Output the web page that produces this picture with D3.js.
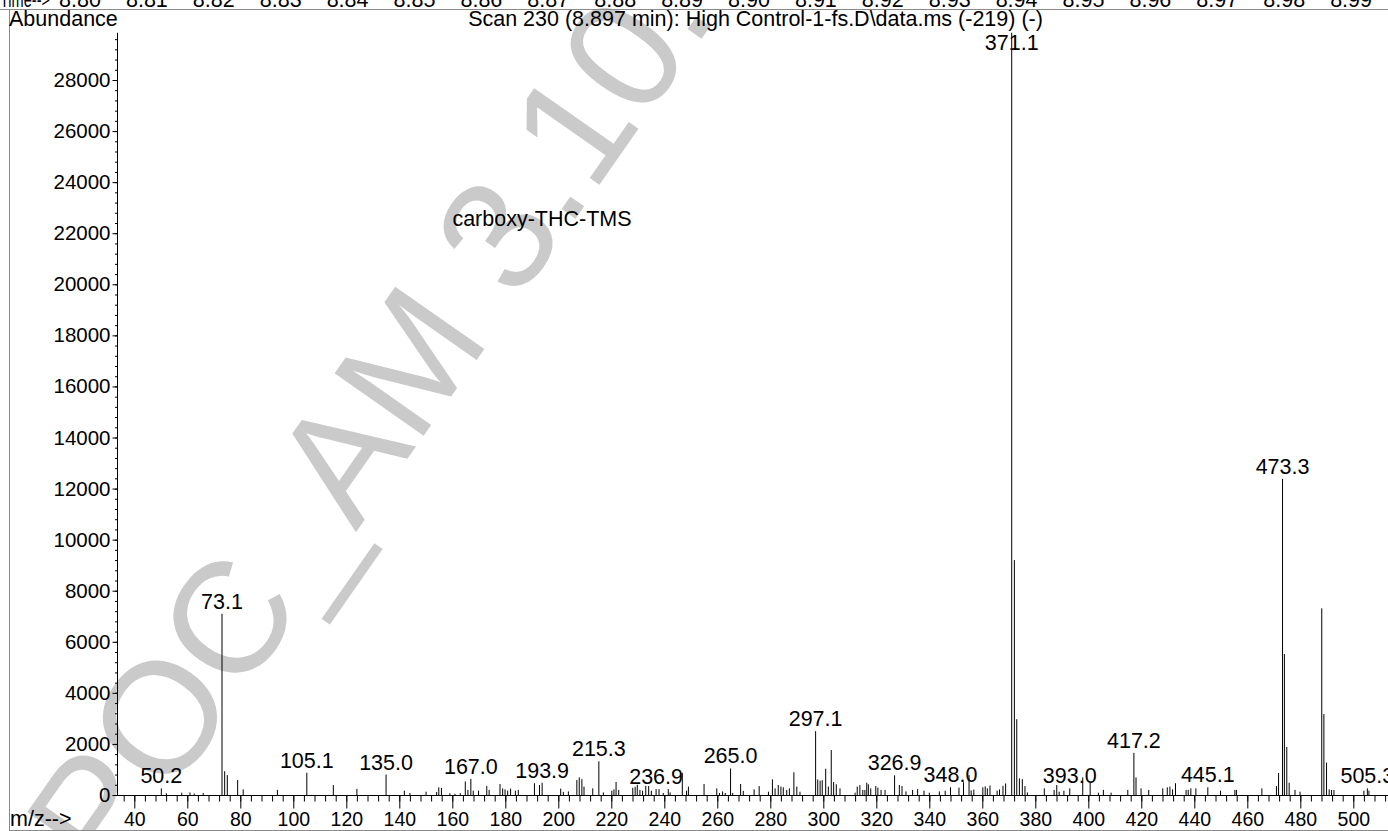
<!DOCTYPE html>
<html><head><meta charset="utf-8">
<script src="https://cdn.jsdelivr.net/npm/d3@7"></script>
<style>
html,body{margin:0;padding:0;background:#fff;overflow:hidden;}
svg{display:block;font-family:"Liberation Sans",Arial,Helvetica,sans-serif;}
</style></head><body>
<svg id="c" width="1388" height="831"></svg>
<script>
// ---- data ----
const mz = [50.2,52.1,57.9,61.0,62.6,66.0,73.1,74.1,75.1,79.0,81.1,94.0,105.1,115.1,124.0,135.0,141.9,144.0,150.1,154.1,154.9,155.9,159.1,161.0,163.0,164.9,165.9,167.0,167.9,169.9,173.0,173.9,178.0,179.0,179.9,180.9,182.0,183.8,184.9,191.0,192.9,193.9,200.9,201.9,203.8,207.0,207.9,208.9,209.7,213.0,215.3,217.0,220.2,221.0,221.8,222.8,228.1,229.0,229.8,230.8,231.8,233.0,234.1,235.1,236.9,238.0,239.6,241.5,242.2,246.8,248.4,249.1,255.0,259.8,260.8,262.0,263.0,265.0,265.8,268.8,269.8,273.9,275.8,279.3,280.8,281.8,283.0,284.0,284.9,286.2,287.2,288.9,290.0,291.2,297.1,297.9,298.8,299.6,300.9,301.9,303.0,303.9,304.9,306.3,312.0,312.8,313.8,314.9,315.7,316.4,317.0,317.9,319.8,320.6,321.8,323.3,326.9,328.7,329.7,331.2,333.7,335.6,338.0,340.0,343.8,346.0,348.0,351.2,352.9,355.0,355.8,356.8,360.2,361.1,361.9,362.9,365.6,366.5,367.8,368.8,371.1,372.1,373.0,374.0,375.1,376.1,377.0,383.4,387.1,388.1,389.0,390.8,393.0,397.9,400.7,403.8,405.7,408.6,414.9,417.2,418.0,419.9,422.8,428.1,429.8,430.8,431.8,432.9,436.9,437.7,438.7,440.6,445.1,449.9,455.3,455.9,465.5,471.0,471.8,473.3,474.0,474.9,475.8,478.0,479.9,488.1,488.9,489.9,490.9,491.8,492.7,504.0,505.3,505.9];
const abundance = [260,70,90,100,60,80,7100,930,780,590,220,200,870,390,240,800,170,80,130,120,300,280,70,50,70,530,200,630,170,170,350,200,430,260,220,170,250,170,200,460,390,480,250,120,140,590,690,620,330,260,1320,100,170,220,510,200,280,320,400,200,170,360,350,170,230,230,80,230,100,870,170,330,430,260,80,140,80,1040,80,430,160,220,350,130,610,260,390,330,300,200,260,890,330,130,2500,610,560,580,1030,330,1760,510,420,260,90,330,390,200,200,480,420,260,350,290,200,200,770,390,350,140,200,230,170,90,140,170,300,290,500,780,180,210,300,340,260,370,170,220,360,450,29850,9200,2970,650,620,350,100,260,200,390,130,170,260,690,520,90,200,90,200,1650,690,260,200,260,300,330,220,460,200,200,260,260,300,170,200,200,260,350,860,12380,5520,1880,480,200,130,7310,3170,1270,220,200,200,170,260,170];
const labelMz = [50.2,73.1,105.1,135.0,167.0,193.9,215.3,236.9,265.0,297.1,326.9,348.0,371.1,393.0,417.2,445.1,473.3,505.3];
const xTickValues = d3.range(40, 501, 20);
const xMinorValues = d3.range(36, 513, 4);
const yTickValues = d3.range(0, 28001, 2000);
const yMinorValues = d3.range(0, 29801, 400);
const timeLabels = ["8.80","8.81","8.82","8.83","8.84","8.85","8.86","8.87","8.88","8.89","8.90","8.91","8.92","8.93","8.94","8.95","8.96","8.97","8.98","8.99"];
const titleText = "Scan 230 (8.897 min): High Control-1-fs.D\\data.ms (-219) (-)";
const yAxisTitle = "Abundance";
const xAxisTitle = "m/z-->";
const timeTitle = "Time-->";
const annotationText = "carboxy-THC-TMS";
const watermarkText = "POC_AM 3.10.";

// ---- drawing ----
const svg = d3.select("#c");
const W = 1388, H = 831;
const x = d3.scaleLinear().domain([40, 500]).range([134.3, 1353.3]);
const y = d3.scaleLinear().domain([0, 28000]).range([795, 80]);
const FS = 21.5;

// watermark (behind)
svg.append("text")
  .attr("transform", "translate(109,885) rotate(-55)")
  .attr("font-size", 158)
  .attr("fill", "#cacaca")
  .text(watermarkText);

// frame
const frame = svg.append("g").attr("stroke", "#8a8a8a").attr("stroke-width", 1).attr("fill", "none");
frame.append("line").attr("x1", 0).attr("x2", W).attr("y1", 9.5).attr("y2", 9.5);
frame.append("line").attr("x1", 9.5).attr("x2", 9.5).attr("y1", 9.5).attr("y2", H);
frame.append("line").attr("x1", 9.5).attr("x2", W).attr("y1", 830.5).attr("y2", 830.5);

// time strip
svg.append("text").attr("x", 0).attr("y", 7).attr("font-size", FS)
  .attr("textLength", 50).attr("lengthAdjust", "spacingAndGlyphs").text(timeTitle);
svg.append("g").selectAll("text").data(timeLabels).join("text")
  .attr("x", (d, i) => 80 + i * 66.9)
  .attr("y", 7).attr("font-size", FS).attr("text-anchor", "middle")
  .text(d => d);

// titles
svg.append("text").attr("x", 9).attr("y", 26).attr("font-size", FS).text(yAxisTitle);
svg.append("text").attr("x", 755.5).attr("y", 26).attr("font-size", FS).attr("text-anchor", "middle").text(titleText);
svg.append("text").attr("x", 10).attr("y", 826).attr("font-size", FS).text(xAxisTitle);
svg.append("text").attr("x", 542).attr("y", 226).attr("font-size", FS).attr("text-anchor", "middle").text(annotationText);

// y axis
const yAxisG = svg.append("g").attr("transform", "translate(117.5,0)");
yAxisG.call(d3.axisLeft(y).tickValues(yMinorValues).tickSize(2.5).tickFormat(""));
yAxisG.select(".domain").remove();
const yMajor = svg.append("g").attr("transform", "translate(117.5,0)")
  .call(d3.axisLeft(y).tickValues(yTickValues).tickSize(5).tickPadding(2).tickFormat(d3.format("d")));
yMajor.select(".domain").remove();
yMajor.selectAll("text").attr("font-size", 20.5).attr("font-family", "Liberation Sans, Arial, sans-serif").attr("fill", "#000");
svg.append("line").attr("x1", 117.5).attr("x2", 117.5).attr("y1", 795).attr("y2", y(29850)).attr("stroke", "#000");

// x axis
const xMinorG = svg.append("g").attr("transform", "translate(0,795.5)")
  .call(d3.axisBottom(x).tickValues(xMinorValues).tickSize(6).tickFormat(""));
xMinorG.select(".domain").remove();
const xMajorG = svg.append("g").attr("transform", "translate(0,795.5)")
  .call(d3.axisBottom(x).tickValues(xTickValues).tickSize(13).tickPadding(4).tickFormat(d3.format("d")));
xMajorG.select(".domain").remove();
xMajorG.selectAll("text").attr("font-size", 19.5).attr("font-family", "Liberation Sans, Arial, sans-serif").attr("fill", "#000");
svg.append("line").attr("x1", 117).attr("x2", W).attr("y1", 795.5).attr("y2", 795.5).attr("stroke", "#000");

// peaks
const peaks = mz.map((m, i) => ({ m, v: abundance[i] }));
svg.append("g").selectAll("line").data(peaks).join("line")
  .attr("x1", d => x(d.m)).attr("x2", d => x(d.m))
  .attr("y1", y(0)).attr("y2", d => y(d.v))
  .attr("stroke", "#000").attr("stroke-width", 1);

// peak labels
const lab = labelMz.map(m => {
  const p = peaks.find(q => q.m === m);
  return { m, v: p.v };
});
svg.append("g").selectAll("text").data(lab).join("text")
  .attr("x", d => x(d.m))
  .attr("y", d => Math.max(y(d.v) - 5, 50))
  .attr("font-size", FS).attr("text-anchor", "middle")
  .text(d => d.m.toFixed(1));
</script>
</body></html>
